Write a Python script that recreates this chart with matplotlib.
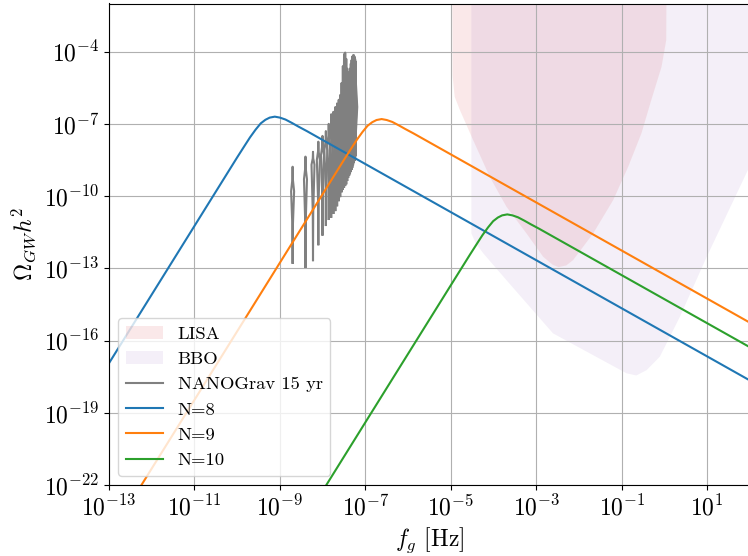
import matplotlib
matplotlib.use("Agg")
import matplotlib.pyplot as plt
import numpy as np

plt.rcParams['font.family'] = 'serif'
plt.rcParams['font.serif'] = ['cmr10']
plt.rcParams['mathtext.fontset'] = 'cm'
plt.rcParams['axes.formatter.use_mathtext'] = True

# GW spectra, log10(f / Hz) and log10(Omega h^2)
n8_logf = [-13.0, -12.0, -11.0, -10.0, -9.82, -9.70, -9.57, -9.45, -9.34, -9.24,
           -9.12, -9.00, -8.87, -8.72, -8.57, -8.37, 2.0]
n8_logomega = [-16.94, -14.09, -11.24, -8.39, -7.89, -7.56, -7.24, -6.98, -6.83, -6.74,
               -6.70, -6.74, -6.82, -6.96, -7.11, -7.30, -17.66]

n9_logf = [-12.5, -10.5, -8.5, -7.5, -7.32, -7.20, -7.07, -6.95, -6.84, -6.74,
           -6.62, -6.50, -6.37, -6.22, -6.07, -5.87, 2.0]
n9_logomega = [-22.74, -17.04, -11.34, -8.49, -7.99, -7.66, -7.34, -7.08, -6.93, -6.84,
               -6.80, -6.84, -6.92, -7.06, -7.21, -7.40, -15.26]

n10_logf = [-8.5, -6.5, -5.0, -4.56, -4.38, -4.26, -4.13, -4.01, -3.90, -3.80,
            -3.68, -3.56, -3.43, -3.28, -3.13, -2.93, 2.0]
n10_logomega = [-23.67, -17.97, -13.70, -12.45, -11.95, -11.62, -11.30, -11.04, -10.89, -10.80,
                -10.76, -10.80, -10.88, -11.02, -11.17, -11.36, -16.28]

# power-law integrated sensitivity regions (outline)
lisa_logf = [-4.97, -4.96, -4.91, -4.79, -4.48, -4.09, -3.70, -3.23, -2.84, -2.62, -2.48,
             -2.30, -2.14, -1.67, -1.20, -0.85, -0.54, -0.31, -0.07, 0.04, 0.05]
lisa_logomega = [0.0, -5.0, -5.88, -6.42, -7.67, -9.20, -10.44, -11.55, -12.52, -12.85, -12.95,
                 -12.88, -12.66, -11.55, -10.16, -8.78, -7.39, -6.01, -4.63, -3.52, 0.0]

bbo_logf = [-4.52, -4.52, -4.42, -4.24, -3.70, -2.61, -1.75, -0.89, -0.66, -0.42,
            -0.11, 0.36, 0.98, 1.95, 2.3, 2.3]
bbo_logomega = [0.0, -11.55, -11.95, -12.38, -13.49, -15.70, -16.53, -17.36, -17.45, -17.23,
                -16.67, -15.01, -12.55, -8.92, -7.6, 0.0]

# NANOGrav 15 yr free spectrum, f_k = k / T
nano_f1 = 1.98e-9
nano_k = list(range(1, 31))
nano_lo = [-12.77, -12.94, -12.66, -12.0, -11.6, -11.2, -10.95, -10.86, -10.7, -10.58,
           -10.38, -10.17, -10.0, -9.8, -9.7, -9.61, -9.54, -9.47, -9.33, -9.2,
           -9.12, -9.05, -8.96, -8.87, -8.78, -8.68, -8.59, -8.5, -8.4, -8.3]
nano_mode = [-9.8, -9.3, -8.7, -8.5, -8.3, -8.1, -7.9, -7.7, -7.6, -7.5,
             -7.4, -7.3, -7.1, -6.9, -6.6, -6.4, -6.4, -6.5, -6.6, -6.7,
             -6.7, -6.6, -6.5, -6.4, -6.3, -6.3, -6.3, -6.3, -6.3, -6.3]
nano_hi = [-8.78, -8.36, -8.16, -7.74, -7.5, -7.3, -7.0, -6.6, -6.5, -6.3,
           -6.15, -6.0, -5.8, -5.3, -4.6, -4.1, -4.04, -4.3, -4.7, -4.85,
           -4.85, -4.7, -4.5, -4.35, -4.2, -4.15, -4.14, -4.2, -4.3, -4.4]


def violin_outline(f, lo, mode, hi, half=0.035):
    ys = [lo, (lo + mode) / 2, mode, (mode + hi) / 2, hi]
    ws = [0.0, 0.15, 1.0, 0.15, 0.0]
    xr = [f * 10 ** (half * w) for w in ws]
    xl = [f * 10 ** (-half * w) for w in ws[::-1]]
    return xr + xl, np.power(10.0, ys + ys[::-1])


fig = plt.figure(figsize=(7.48, 5.56), dpi=100)
ax = fig.add_axes([109 / 748, 1 - 485 / 556, 641 / 748, 481.5 / 556])

ax.fill(np.power(10.0, lisa_logf), np.power(10.0, lisa_logomega),
        color='tab:red', alpha=0.1, lw=0, label='LISA')
ax.fill(np.power(10.0, bbo_logf), np.power(10.0, bbo_logomega),
        color='tab:purple', alpha=0.1, lw=0, label='BBO')

for i, k in enumerate(nano_k):
    vx, vy = violin_outline(k * nano_f1, nano_lo[i], nano_mode[i], nano_hi[i])
    ax.plot(vx, vy, color='gray', lw=1.5,
            label='NANOGrav 15 yr' if i == 0 else None)

ax.plot(np.power(10.0, n8_logf), np.power(10.0, n8_logomega), color='tab:blue', lw=1.5, label='N=8')
ax.plot(np.power(10.0, n9_logf), np.power(10.0, n9_logomega), color='tab:orange', lw=1.5, label='N=9')
ax.plot(np.power(10.0, n10_logf), np.power(10.0, n10_logomega), color='tab:green', lw=1.5, label='N=10')

ax.set_xscale('log')
ax.set_yscale('log')
ax.set_xlim(1e-13, 1e2)
ax.set_ylim(1e-22, 1e-2)
ax.set_xticks(np.power(10.0, np.arange(-13, 2, 2)))
ax.set_yticks(np.power(10.0, np.arange(-22, -3, 3)))
ax.xaxis.set_minor_locator(matplotlib.ticker.NullLocator())
ax.yaxis.set_minor_locator(matplotlib.ticker.NullLocator())
ax.tick_params(labelsize=17)
ax.grid(True)

ax.set_xlabel(r'$f_g$ [Hz]', fontsize=17)
ax.set_ylabel(r'$\Omega_{GW}h^2$', fontsize=17)
ax.legend(loc='lower left', fontsize=13.4)

fig.savefig('out.png', dpi=100)
